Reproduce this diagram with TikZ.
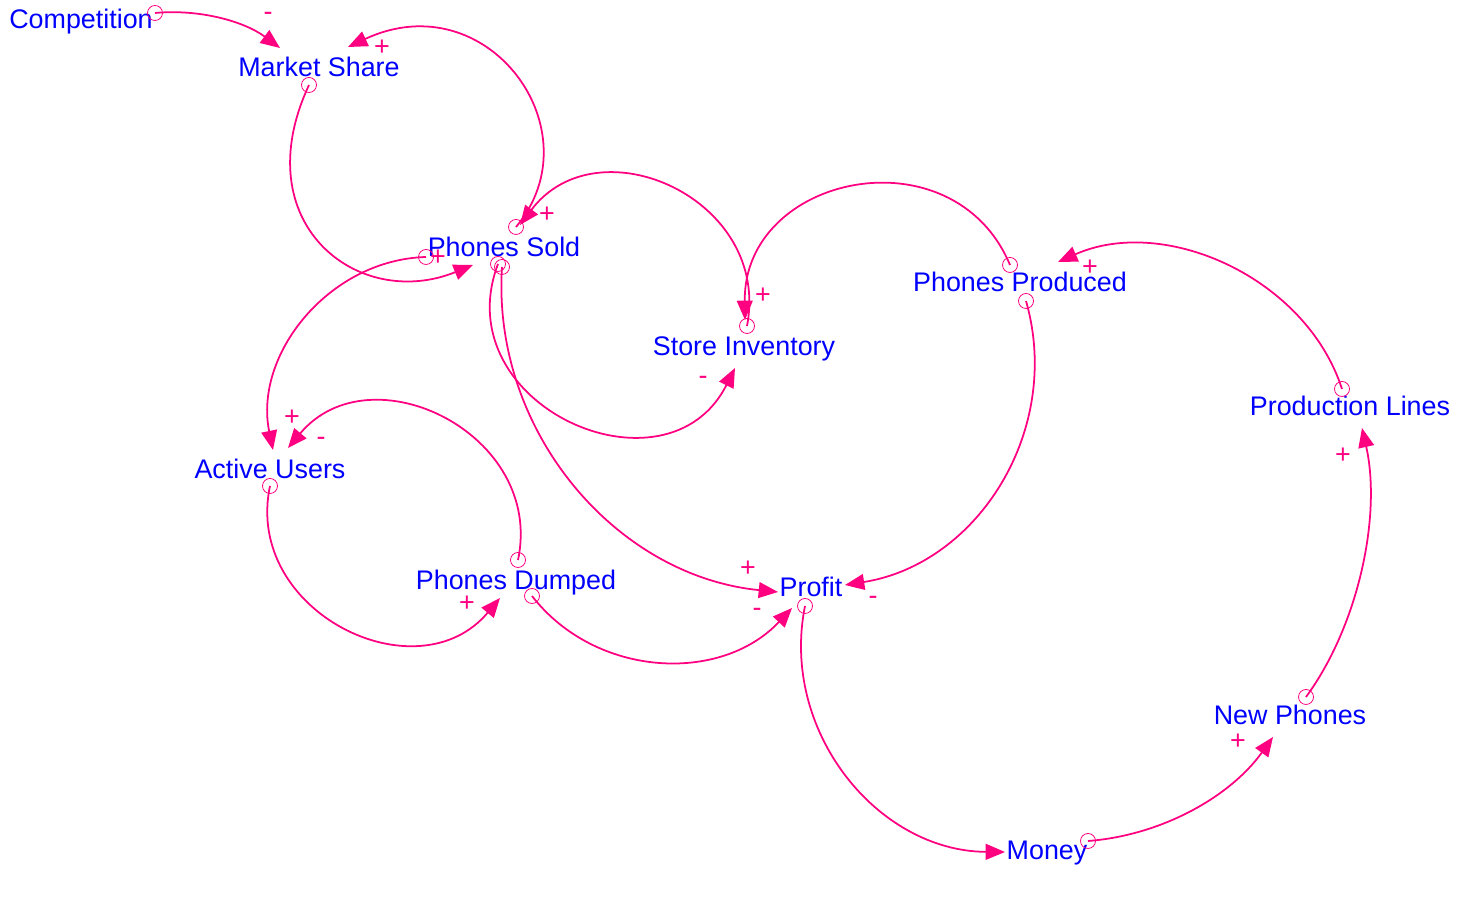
\documentclass[tikz,border=0pt]{standalone}
\usepackage{fontspec}
\setmainfont{Liberation Sans}
\usetikzlibrary{arrows.meta}
\definecolor{linkpink}{RGB}{255,0,128}
\definecolor{varblue}{RGB}{0,0,255}

\begin{document}
\begin{tikzpicture}[
		x=0.02cm, y=0.02cm,
		% Styles
		var/.style={anchor=base, inner sep=0pt, text=varblue, font=\fontsize{15.3}{18}\selectfont},
		tail/.style={circle, draw=linkpink, line width=0.45pt, minimum size=0.3cm, inner sep=0pt},
		sign/.style={anchor=base, inner sep=0pt, text=linkpink, font=\fontsize{15.3}{18}\selectfont},
		% Arrows
		link/.style={draw=linkpink, line width=1pt, -{Triangle[length=11pt, width=9pt]}},
		]

		\useasboundingbox (0,0) rectangle (1472,909);

		% Variables
		\node[var] (comp) at (81,880) {Competition};
		\node[var] (share) at (319,832) {Market Share};
		\node[var] (sold) at (504,652) {Phones Sold};
		\node[var] (inv) at (744,553) {Store Inventory};
		\node[var] (prod) at (1020,617) {Phones Produced};
		\node[var] (lines) at (1350,493) {Production Lines};
		\node[var] (users) at (270,430) {Active Users};
		\node[var] (dumped) at (516,319) {Phones Dumped};
		\node[var] (profit) at (811,312) {Profit};
		\node[var] (money) at (1047,49) {Money};
		\node[var] (newph) at (1290,184) {New Phones};

		% Link tails
		\node[tail] (comp-o) at (155,896) {};
		\node[tail] (share-o) at (309,824) {};
		\node[tail] (sold-top) at (516,682) {};
		\node[tail] (sold-left) at (426,652) {};
		\node[tail] (sold-bot1) at (498,645) {};
		\node[tail] (sold-bot2) at (502,642) {};
		\node[tail] (inv-o) at (747,583) {};
		\node[tail] (prod-top) at (1010,644) {};
		\node[tail] (prod-bot) at (1026,608) {};
		\node[tail] (lines-o) at (1342,520) {};
		\node[tail] (users-o) at (270,423) {};
		\node[tail] (dump-top) at (518,349) {};
		\node[tail] (dump-bot) at (532,313) {};
		\node[tail] (profit-o) at (805,303) {};
		\node[tail] (money-o) at (1088,68) {};
		\node[tail] (newph-o) at (1306,212) {};

		% Link heads
		\coordinate (share-in1) at (280,861);
		\coordinate (share-in2) at (348,862);
		\coordinate (sold-in1) at (473,644);
		\coordinate (sold-in2) at (520,684);
		\coordinate (users-in1) at (273,459);
		\coordinate (users-in2) at (288,461);
		\coordinate (inv-in1) at (735,541);
		\coordinate (inv-in2) at (745,589);
		\coordinate (profit-in1) at (778,317);
		\coordinate (profit-in2) at (845,324);
		\coordinate (profit-in3) at (792,301);
		\coordinate (prod-in) at (1058,647);
		\coordinate (dumped-in) at (500,311);
		\coordinate (money-in) at (1005,57);
		\coordinate (newph-in) at (1273,172);
		\coordinate (lines-in) at (1362,481);

		% Links
		\draw[link] (comp-o.center) to[bend left=21, looseness=0.88] (share-in1);
		\draw[link] (share-o.center) to[out=245, in=202, out looseness=1.6, in looseness=1.3] (sold-in1);
		\draw[link] (sold-top.center) to[out=50, in=25, out looseness=1.3, in looseness=1.6] (share-in2);
		\draw[link] (sold-left.center) to[bend right=50, looseness=1.01] (users-in1);
		\draw[link] (sold-bot1.center) to[bend right=87, looseness=1.50] (inv-in1);
		\draw[link] (sold-bot2.center) to[bend right=44, looseness=0.98] (profit-in1);
		\draw[link] (inv-o.center) to[bend right=77, looseness=1.33] (sold-in2);
		\draw[link] (prod-top.center) to[bend right=79, looseness=1.38] (inv-in2);
		\draw[link] (prod-bot.center) to[bend left=48.5, looseness=1.02] (profit-in2);
		\draw[link] (lines-o.center) to[bend right=48, looseness=0.96] (prod-in);
		\draw[link] (users-o.center) to[bend right=76, looseness=1.29] (dumped-in);
		\draw[link] (dump-top.center) to[bend right=76, looseness=1.29] (users-in2);
		\draw[link] (dump-bot.center) to[bend right=49.5, looseness=1.02] (profit-in3);
		\draw[link] (profit-o.center) to[bend right=50.5, looseness=1.03] (money-in);
		\draw[link] (money-o.center) to[bend right=25, looseness=0.89] (newph-in);
		\draw[link] (newph-o.center) to[bend right=24.5, looseness=0.83] (lines-in);

		% Polarities
		\node[sign] (s1) at (268,888) {-};
		\node[sign] (s2) at (438,643) {+};
		\node[sign] (s3) at (382,853) {+};
		\node[sign] (s4) at (292,483) {+};
		\node[sign] (s5) at (703,524) {-};
		\node[sign] (s6) at (748,332) {+};
		\node[sign] (s7) at (547,686) {+};
		\node[sign] (s8) at (763,605) {+};
		\node[sign] (s9) at (873,304) {-};
		\node[sign] (s10) at (1090,633) {+};
		\node[sign] (s11) at (467,297) {+};
		\node[sign] (s12) at (321,463) {-};
		\node[sign] (s13) at (757,292) {-};
		\node[sign] (s15) at (1238,159) {+};
		\node[sign] (s16) at (1343,445) {+};

	\end{tikzpicture}
\end{document}
